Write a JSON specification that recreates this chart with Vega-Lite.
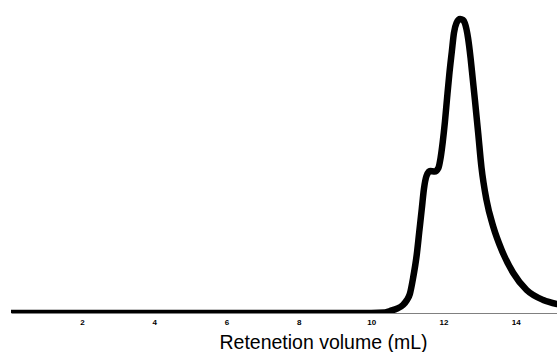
{
  "$schema": "https://vega.github.io/schema/vega-lite/v6.json",
  "width": 546,
  "height": 313,
  "autosize": {"type": "none"},
  "padding": {"left": 11, "top": 0, "right": 0, "bottom": 39},
  "background": "white",
  "config": {"view": {"stroke": null}, "font": "Liberation Sans"},
  "data": {"values": [
    {"v": 0.04, "s": 0}, {"v": 5.0, "s": 0}, {"v": 10.0, "s": 0},
    {"v": 10.38, "s": 0.5}, {"v": 10.52, "s": 2}, {"v": 10.69, "s": 4},
    {"v": 10.88, "s": 8}, {"v": 10.99, "s": 13}, {"v": 11.07, "s": 19},
    {"v": 11.16, "s": 35}, {"v": 11.26, "s": 58}, {"v": 11.33, "s": 81},
    {"v": 11.40, "s": 104}, {"v": 11.46, "s": 124}, {"v": 11.53, "s": 137},
    {"v": 11.63, "s": 142}, {"v": 11.76, "s": 141.5}, {"v": 11.86, "s": 145},
    {"v": 11.92, "s": 155}, {"v": 11.98, "s": 171}, {"v": 12.04, "s": 191},
    {"v": 12.10, "s": 215}, {"v": 12.16, "s": 238}, {"v": 12.23, "s": 261},
    {"v": 12.29, "s": 280}, {"v": 12.36, "s": 290}, {"v": 12.46, "s": 294},
    {"v": 12.54, "s": 293}, {"v": 12.59, "s": 290}, {"v": 12.68, "s": 275},
    {"v": 12.75, "s": 255}, {"v": 12.81, "s": 234}, {"v": 12.87, "s": 213},
    {"v": 12.96, "s": 180}, {"v": 13.05, "s": 146}, {"v": 13.19, "s": 113},
    {"v": 13.38, "s": 86}, {"v": 13.61, "s": 63}, {"v": 13.93, "s": 40},
    {"v": 14.30, "s": 23}, {"v": 14.76, "s": 13}, {"v": 15.14, "s": 9}
  ]},
  "mark": {"type": "line", "color": "black", "strokeWidth": 6.5, "strokeCap": "round", "strokeJoin": "round", "interpolate": "monotone", "clip": true},
  "encoding": {
    "x": {
      "field": "v", "type": "quantitative",
      "scale": {"domain": [0.04, 15.14], "nice": false, "zero": false},
      "axis": {
        "title": "Retenetion volume (mL)",
        "values": [2, 4, 6, 8, 10, 12, 14],
        "grid": false, "ticks": false,
        "domainColor": "#808080", "domainWidth": 1,
        "labelFont": "Liberation Sans", "labelFontSize": 8, "labelFontWeight": "bold", "labelColor": "black",
        "labelPadding": 5,
        "titleFont": "Liberation Sans", "titleFontSize": 19.5, "titleFontWeight": "normal", "titleColor": "black",
        "titleX": 312, "titleY": 35, "titleAlign": "center", "titleBaseline": "alphabetic", "titleAnchor": null
      }
    },
    "y": {
      "field": "s", "type": "quantitative",
      "scale": {"domain": [0, 313], "nice": false},
      "axis": null
    }
  }
}
